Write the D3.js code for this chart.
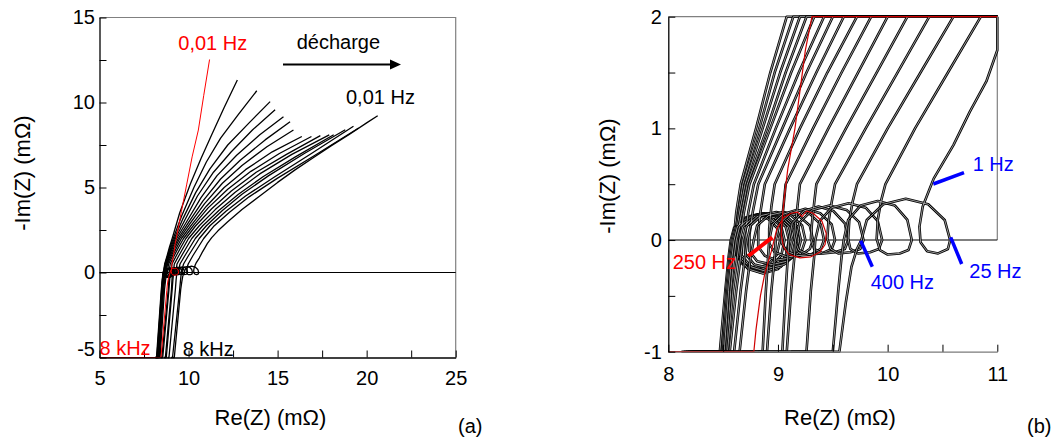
<!DOCTYPE html>
<html><head><meta charset="utf-8">
<script src="https://cdn.jsdelivr.net/npm/d3@7"></script>
<style>
body{margin:0;background:#fff}
svg{display:block}
text{font-family:Arial,"Liberation Sans",sans-serif}
</style>
</head><body>
<svg id="c" width="1061" height="439"></svg>
<script>
// ---- data: impedance spectra [Re(Z), -Im(Z)] in mOhm, from 8 kHz to 0.01 Hz ----
const c0 = [[8.12,-5.7],[8.2,-5],[8.47,-1],[8.52,-0.45],[8.55,-0.15],[8.57,0],[8.6,0.11],[8.68,0.19],[8.8,0.22],[8.91,0.19],[8.99,0.11],[9.02,0],[8.99,-0.13],[8.91,-0.22],[8.8,-0.25],[8.68,-0.22],[8.61,-0.12],[8.6,0.05],[8.62,0.25],[8.66,0.5],[8.8,1.0],[8.93,1.5],[9.08,2],[9.5,3.5],[10.1,5.2],[10.7,6.7],[11.3,8.1],[12.0,9.7],[12.74,11.32]];
const c1 = [[8.14,-5.7],[8.22,-5],[8.49,-1],[8.53,-0.45],[8.56,-0.15],[8.58,0],[8.61,0.12],[8.7,0.2],[8.82,0.23],[8.94,0.2],[9.03,0.12],[9.06,0],[9.03,-0.14],[8.94,-0.23],[8.82,-0.27],[8.7,-0.23],[8.62,-0.13],[8.61,0.05],[8.64,0.25],[8.68,0.5],[8.83,1.0],[8.97,1.5],[9.14,2],[9.6,3.3],[10.3,5.0],[11.0,6.5],[11.8,7.9],[12.8,9.3],[13.83,10.69]];
const c2 = [[8.16,-5.7],[8.24,-5],[8.5,-1],[8.54,-0.45],[8.57,-0.15],[8.59,0],[8.62,0.12],[8.72,0.2],[8.845,0.23],[8.97,0.2],[9.07,0.12],[9.1,0],[9.07,-0.15],[8.97,-0.25],[8.845,-0.29],[8.72,-0.25],[8.63,-0.14],[8.62,0.05],[8.65,0.25],[8.7,0.5],[8.86,1.0],[9.02,1.5],[9.2,2],[9.7,3.2],[10.4,4.7],[11.2,6.1],[12.2,7.5],[13.4,8.8],[14.58,10.05]];
const c3 = [[8.18,-5.7],[8.26,-5],[8.51,-1],[8.55,-0.45],[8.58,-0.15],[8.6,0],[8.63,0.12],[8.73,0.21],[8.865,0.24],[9.0,0.21],[9.1,0.12],[9.13,0],[9.1,-0.15],[9.0,-0.26],[8.865,-0.3],[8.73,-0.26],[8.64,-0.15],[8.63,0.05],[8.67,0.25],[8.72,0.5],[8.9,1.0],[9.07,1.5],[9.26,2],[9.8,3.1],[10.5,4.5],[11.4,5.9],[12.4,7.1],[13.6,8.4],[14.86,9.57]];
const c4 = [[8.2,-5.7],[8.28,-5],[8.53,-1],[8.57,-0.45],[8.6,-0.15],[8.62,0],[8.65,0.12],[8.755,0.21],[8.89,0.24],[9.025,0.21],[9.13,0.12],[9.16,0],[9.13,-0.14],[9.025,-0.24],[8.89,-0.28],[8.755,-0.24],[8.67,-0.14],[8.66,0.05],[8.69,0.25],[8.74,0.5],[8.93,1.0],[9.12,1.5],[9.33,2],[9.9,3.0],[10.7,4.4],[11.6,5.7],[12.7,6.9],[14.0,8.1],[15.33,9.16]];
const c5 = [[8.22,-5.7],[8.3,-5],[8.54,-1],[8.59,-0.45],[8.63,-0.15],[8.65,0],[8.68,0.12],[8.785,0.21],[8.92,0.24],[9.055,0.21],[9.16,0.12],[9.19,0],[9.16,-0.13],[9.055,-0.22],[8.92,-0.25],[8.785,-0.22],[8.7,-0.12],[8.7,0.05],[8.73,0.25],[8.78,0.5],[8.98,1.0],[9.19,1.5],[9.42,2],[10.0,2.95],[10.8,4.2],[11.8,5.5],[12.9,6.6],[14.3,7.8],[15.7,8.87]];
const c6 = [[8.25,-5.7],[8.33,-5],[8.56,-1],[8.62,-0.45],[8.66,-0.15],[8.68,0],[8.71,0.12],[8.81,0.21],[8.945,0.24],[9.08,0.21],[9.18,0.12],[9.21,0],[9.18,-0.11],[9.08,-0.19],[8.945,-0.22],[8.81,-0.19],[8.74,-0.1],[8.74,0.05],[8.77,0.25],[8.82,0.5],[9.04,1.0],[9.26,1.5],[9.5,2],[10.1,2.9],[10.9,4.05],[11.9,5.25],[13.0,6.3],[14.4,7.4],[15.89,8.38]];
const c7 = [[8.28,-5.7],[8.36,-5],[8.6,-1],[8.66,-0.45],[8.7,-0.15],[8.72,0],[8.75,0.13],[8.85,0.22],[8.985,0.25],[9.12,0.22],[9.22,0.13],[9.25,0],[9.22,-0.09],[9.12,-0.16],[8.985,-0.18],[8.88,-0.14],[8.82,-0.06],[8.82,0.08],[8.84,0.25],[8.88,0.5],[9.11,1.0],[9.35,1.5],[9.6,2],[10.2,2.85],[11.0,3.9],[12.0,5.0],[13.2,6.05],[14.7,7.1],[16.36,8.0]];
const c8 = [[8.32,-5.7],[8.4,-5],[8.65,-1],[8.71,-0.45],[8.75,-0.15],[8.78,0],[8.81,0.13],[8.915,0.22],[9.05,0.25],[9.185,0.22],[9.29,0.13],[9.32,0],[9.29,-0.08],[9.2,-0.14],[9.08,-0.15],[8.97,-0.11],[8.92,-0.03],[8.92,0.1],[8.94,0.3],[8.97,0.5],[9.2,1.0],[9.45,1.5],[9.72,2],[10.3,2.8],[11.1,3.8],[12.2,4.9],[13.5,5.95],[15.1,7.0],[16.9,8.0]];
const c9 = [[8.42,-5.7],[8.5,-5],[8.86,-1],[8.89,-0.45],[8.91,-0.15],[8.92,0],[8.95,0.14],[9.045,0.23],[9.17,0.27],[9.295,0.23],[9.39,0.14],[9.42,0],[9.39,-0.08],[9.3,-0.13],[9.18,-0.14],[9.08,-0.1],[9.03,-0.02],[9.03,0.12],[9.05,0.3],[9.07,0.5],[9.32,1.0],[9.58,1.5],[9.85,2],[10.4,2.75],[11.3,3.75],[12.4,4.8],[13.8,5.9],[15.5,6.95],[17.4,8.05]];
const c10 = [[8.47,-5.7],[8.55,-5],[8.9,-1],[8.94,-0.45],[8.97,-0.15],[8.98,0],[9.01,0.14],[9.115,0.24],[9.25,0.28],[9.385,0.24],[9.49,0.14],[9.52,0],[9.49,-0.08],[9.4,-0.12],[9.28,-0.13],[9.19,-0.09],[9.15,0],[9.16,0.14],[9.18,0.32],[9.2,0.5],[9.46,1.0],[9.73,1.5],[10.0,2],[10.6,2.75],[11.5,3.7],[12.6,4.7],[14.0,5.8],[15.8,6.95],[17.9,8.1]];
const c11 = [[8.62,-5.7],[8.7,-5],[9.04,-1],[9.07,-0.45],[9.09,-0.15],[9.1,0],[9.13,0.15],[9.235,0.26],[9.37,0.3],[9.505,0.26],[9.61,0.15],[9.64,0],[9.61,-0.08],[9.52,-0.11],[9.41,-0.12],[9.33,-0.08],[9.3,0.01],[9.31,0.15],[9.33,0.33],[9.35,0.5],[9.62,1.0],[9.9,1.5],[10.18,2],[10.8,2.75],[11.7,3.65],[12.8,4.6],[14.2,5.65],[16.0,6.8],[18.15,8.1]];
const c12 = [[8.67,-5.7],[8.75,-5],[9.08,-1],[9.12,-0.45],[9.15,-0.15],[9.16,0],[9.2,0.16],[9.315,0.27],[9.47,0.31],[9.625,0.27],[9.74,0.16],[9.78,0],[9.75,-0.08],[9.66,-0.11],[9.55,-0.12],[9.48,-0.08],[9.45,0.01],[9.46,0.16],[9.49,0.34],[9.52,0.5],[9.8,1.0],[10.09,1.5],[10.38,2],[11.0,2.75],[11.9,3.65],[13.0,4.6],[14.5,5.7],[16.5,7.0],[18.8,8.4]];
const c13 = [[8.82,-5.7],[8.9,-5],[9.26,-1],[9.3,-0.45],[9.33,-0.15],[9.34,0],[9.38,0.17],[9.49,0.29],[9.645,0.33],[9.8,0.29],[9.91,0.17],[9.95,0],[9.92,-0.08],[9.84,-0.11],[9.73,-0.12],[9.66,-0.08],[9.64,0.01],[9.65,0.17],[9.68,0.34],[9.72,0.5],[10.0,1.0],[10.3,1.5],[10.6,2],[11.2,2.75],[12.1,3.6],[13.2,4.5],[14.8,5.6],[16.9,7.0],[19.26,8.6]];
const c14 = [[9.02,-5.7],[9.1,-5],[9.5,-1],[9.55,-0.45],[9.58,-0.15],[9.6,0],[9.64,0.18],[9.755,0.31],[9.91,0.35],[10.065,0.31],[10.18,0.18],[10.22,0],[10.19,-0.09],[10.11,-0.12],[10.0,-0.13],[9.93,-0.09],[9.9,0.01],[9.91,0.18],[9.94,0.35],[9.98,0.5],[10.25,1.0],[10.55,1.5],[10.85,2],[11.4,2.7],[12.3,3.55],[13.4,4.45],[15.0,5.55],[17.1,6.9],[19.55,8.5]];
const c15 = [[9.12,-5.7],[9.2,-5],[9.56,-1],[9.62,-0.55],[9.67,-0.24],[9.72,-0.08],[9.76,0],[9.81,0.18],[9.96,0.32],[10.165,0.37],[10.37,0.32],[10.52,0.18],[10.57,0],[10.55,-0.08],[10.46,-0.12],[10.36,-0.1],[10.3,-0.02],[10.29,0.12],[10.32,0.3],[10.38,0.45],[10.42,0.55],[10.6,0.85],[10.75,1.15],[10.9,1.42],[11.05,1.7],[11.3,2.05],[11.65,2.45],[12.2,2.98],[13,3.7],[14,4.5],[15,5.3],[16,6.05],[17,6.75],[18,7.45],[19,8.1],[20,8.8],[20.62,9.22]];
const blackCurves = [c0,c1,c2,c3,c4,c5,c6,c7,c8,c9,c10,c11,c12,c13,c14,c15];
const redCurve = [[2,-8],[8.45,-5.3],[8.78,-1.05],[8.8,-0.8],[8.84,-0.5],[8.88,-0.3],[8.94,-0.1],[8.99,0.1],[9.05,0.2],[9.12,0.24],[9.18,0.25],[9.22,0.21],[9.26,0.26],[9.32,0.24],[9.4,0.17],[9.44,0.06],[9.43,-0.04],[9.38,-0.11],[9.3,-0.15],[9.2,-0.16],[9.1,-0.13],[9.05,-0.06],[9.03,0.05],[9.04,0.2],[9.06,0.4],[9.09,0.64],[9.155,1.0],[9.25,1.7],[9.31,2.0],[9.6,3.6],[9.9,5.2],[10.2,6.8],[10.55,8.38],[10.85,10.4],[11.18,12.53]];

const xTicksA = [5,10,15,20,25];
const xMinorA = [7.5,12.5,17.5,22.5];
const yTicksA = [-5,0,5,10,15];
const yMinorA = [-2.5,2.5,7.5,12.5];
const xTicksB = [8,9,10,11];
const xMinorB = [8.5,9.5,10.5];
const yTicksB = [-1,0,1,2];
const yMinorB = [-0.5,0.5,1.5];

const svg = d3.select('#c');

const panels = [
  {xd:[5,25], xr:[99.5,455.7], yd:[-5,15], yr:[357.5,17.5], xMaj:xTicksA, xMin:xMinorA, yMaj:yTicksA, yMin:yMinorA,
   hollow:false, xPad:13.5, yPad:4.5, bottomCol:'#000', rightToZero:false, titleX:270.5, titleYx:30, titleYy:173, tag:'(a)', tagX:458},
  {xd:[8,11], xr:[668.3,997.3], yd:[-1,2], yr:[351.7,16.7], xMaj:xTicksB, xMin:xMinorB, yMaj:yTicksB, yMin:yMinorB,
   hollow:true, xPad:15, yPad:6.5, bottomCol:'#7a7a7a', rightToZero:true, titleX:840, titleYx:615, titleYy:176, tag:'(b)', tagX:1027}
];

panels.forEach((p, pi) => {
  const x = d3.scaleLinear().domain(p.xd).range(p.xr).clamp(true);
  const y = d3.scaleLinear().domain(p.yd).range(p.yr).clamp(true);
  const g = svg.append('g');
  // frame (top, right)
  const rightEnd = p.rightToZero ? y(0) : p.yr[0];
  g.append('path').attr('d', `M${p.xr[0]},${p.yr[1]}H${p.xr[1]}V${rightEnd}`)
    .attr('fill','none').attr('stroke','#808080').attr('stroke-width',1.2);
  // zero line
  g.append('line').attr('x1',p.xr[0]).attr('x2',p.xr[1]).attr('y1',y(0)).attr('y2',y(0))
    .attr('stroke','#000').attr('stroke-width',1.1);

  const line = d3.line().x(d => x(d[0])).y(d => y(d[1]));
  const cg = g.append('g');
  blackCurves.forEach(c => {
    if (p.hollow) {
      cg.append('path').attr('d', line(c)).attr('fill','none').attr('stroke','#000').attr('stroke-width',2.6).attr('stroke-linejoin','round');
      cg.append('path').attr('d', line(c)).attr('fill','none').attr('stroke','#fff').attr('stroke-width',0.6).attr('stroke-linejoin','round');
    } else {
      cg.append('path').attr('d', line(c)).attr('fill','none').attr('stroke','#000').attr('stroke-width',1.3).attr('stroke-linejoin','round');
    }
  });
  cg.append('path').attr('d', line(redCurve)).attr('fill','none').attr('stroke', p.hollow ? '#d00000' : '#ff0000')
    .attr('stroke-width', p.hollow ? 1.2 : 1).attr('stroke-linejoin','round');

  // axes
  const xAxis = d3.axisBottom(x).tickValues(p.xMaj.concat(p.xMin)).tickSize(-7).tickSizeOuter(0)
    .tickPadding(p.xPad).tickFormat(d => p.xMaj.includes(d) ? String(d) : '');
  const yAxis = d3.axisLeft(y).tickValues(p.yMaj.concat(p.yMin)).tickSize(-7).tickSizeOuter(0)
    .tickPadding(p.yPad).tickFormat(d => p.yMaj.includes(d) ? String(d) : '');
  const gx = g.append('g').attr('transform', `translate(0,${p.yr[0]})`).call(xAxis);
  const gy = g.append('g').attr('transform', `translate(${p.xr[0]},0)`).call(yAxis);
  gx.select('.domain').attr('stroke', p.bottomCol).attr('stroke-width',1.3);
  gy.select('.domain').attr('stroke', '#000').attr('stroke-width',1.3);
  [gx, gy].forEach(a => {
    a.selectAll('.tick line').attr('stroke','#000').attr('stroke-width',1);
    a.selectAll('text').attr('font-size',20).attr('fill','#000').style('font-family','Arial, "Liberation Sans", sans-serif');
  });
  // lowest y label of panel (a) sits slightly above its tick
  if (pi === 0) gy.selectAll('.tick').filter(d => d === p.yd[0]).select('text').attr('dy','-0.1em');
  // titles
  g.append('text').attr('x', p.titleX).attr('y', 425).attr('text-anchor','middle').attr('font-size',22).text('Re(Z) (mΩ)');
  g.append('text').attr('transform', `translate(${p.titleYx},${p.titleYy}) rotate(-90)`).attr('text-anchor','middle')
    .attr('font-size',22).text('-Im(Z) (mΩ)');
  g.append('text').attr('x', p.tagX).attr('y', 433).attr('font-size',20).text(p.tag);
});

// ---- annotations panel (a) ----
const ann = svg.append('g').attr('font-size',20);
ann.append('text').attr('x',296.7).attr('y',49).text('décharge');
ann.append('line').attr('x1',283).attr('x2',392).attr('y1',64.5).attr('y2',64.5).attr('stroke','#000').attr('stroke-width',2);
ann.append('path').attr('d','M390,59.5L401,64.5L390,69.5Z').attr('fill','#000');
ann.append('text').attr('x',178.3).attr('y',50).attr('fill','#ff0000').text('0,01 Hz');
ann.append('text').attr('x',346).attr('y',104).text('0,01 Hz');
ann.append('text').attr('x',99.5).attr('y',355).attr('fill','#ff0000').text('8 kHz');
ann.append('text').attr('x',182.7).attr('y',356).text('8 kHz');

// ---- annotations panel (b) ----
const blue = '#0000ff';
ann.append('line').attr('x1',933.3).attr('y1',184).attr('x2',964).attr('y2',172.7).attr('stroke',blue).attr('stroke-width',3.5);
ann.append('text').attr('x',972.7).attr('y',171).attr('fill',blue).text('1 Hz');
ann.append('line').attr('x1',950.7).attr('y1',237.3).attr('x2',961.7).attr('y2',264).attr('stroke',blue).attr('stroke-width',3.5);
ann.append('text').attr('x',969.3).attr('y',278).attr('fill',blue).text('25 Hz');
ann.append('line').attr('x1',860.7).attr('y1',240.7).attr('x2',872.3).attr('y2',266.7).attr('stroke',blue).attr('stroke-width',3.5);
ann.append('text').attr('x',870.7).attr('y',288.5).attr('fill',blue).text('400 Hz');
ann.append('line').attr('x1',748.3).attr('y1',256).attr('x2',772.3).attr('y2',237.3).attr('stroke','#ff0000').attr('stroke-width',4);
ann.append('text').attr('x',672.7).attr('y',268.5).attr('fill','#ff0000').text('250 Hz');
</script>
</body></html>
